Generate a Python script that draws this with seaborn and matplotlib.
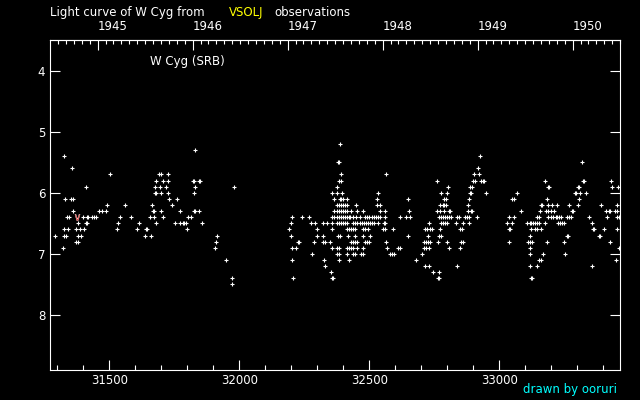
import matplotlib
matplotlib.use("Agg")
import matplotlib.pyplot as plt
from matplotlib.ticker import MultipleLocator, FixedLocator
import seaborn as sns
import pandas as pd

# visual estimates (JD - 2400000, magnitude), per season
season_1945 = [
    (31292, 6.7), (31323, 6.9), (31327, 5.4), (31327, 6.6), (31327, 6.7), (31331, 6.1),
    (31335, 6.7), (31338, 6.4), (31342, 6.6), (31346, 6.4), (31354, 6.1), (31358, 5.6),
    (31362, 6.1), (31362, 6.3), (31373, 6.6), (31373, 6.8), (31378, 6.5), (31381, 6.7),
    (31381, 6.8), (31388, 6.6), (31392, 6.7), (31400, 6.4), (31404, 6.6), (31410, 6.5),
    (31414, 6.5), (31412, 5.9), (31413, 6.4), (31417, 6.4), (31432, 6.4), (31440, 6.4),
    (31449, 6.4), (31462, 6.3), (31472, 6.3), (31488, 6.3), (31492, 6.2), (31504, 5.7),
]
season_1946 = [
    (31531, 6.6), (31535, 6.5), (31542, 6.4), (31562, 6.2), (31585, 6.4), (31608, 6.6),
    (31615, 6.5), (31638, 6.7), (31642, 6.6), (31646, 6.6), (31658, 6.4), (31662, 6.7),
    (31665, 6.2), (31669, 6.3), (31673, 6.3), (31673, 6.4), (31675, 6.0), (31679, 6.0),
    (31677, 5.9), (31681, 5.8), (31681, 6.5), (31692, 5.7), (31696, 5.9), (31700, 5.7),
    (31700, 6.0), (31700, 6.3), (31708, 5.8), (31708, 6.4), (31719, 5.9), (31727, 5.7),
    (31727, 5.8), (31727, 6.0), (31731, 6.1), (31742, 6.2), (31754, 6.5), (31762, 6.1),
    (31773, 6.3), (31773, 6.5), (31783, 6.5), (31787, 6.5), (31796, 6.5), (31800, 6.6),
    (31804, 6.4), (31815, 6.4), (31823, 5.8), (31827, 5.8), (31825, 6.3), (31827, 6.0),
    (31831, 5.3), (31831, 5.9), (31831, 6.3), (31844, 5.8), (31848, 5.8), (31846, 6.3),
    (31858, 6.5), (31908, 6.9), (31912, 6.8), (31915, 6.7), (31950, 7.1), (31973, 7.4),
    (31973, 7.5), (31981, 5.9),
]
season_1947 = [
    (32192, 6.6), (32200, 6.5), (32200, 6.7), (32204, 6.4), (32204, 6.9), (32204, 7.1),
    (32208, 7.4), (32219, 6.9), (32225, 6.8), (32229, 6.8), (32242, 6.4), (32269, 6.4),
    (32277, 6.5), (32280, 7.0), (32288, 6.8), (32292, 6.5), (32300, 6.6), (32300, 6.7),
    (32323, 6.5), (32323, 6.7), (32323, 6.8), (32327, 7.1), (32330, 6.8), (32330, 7.2),
    (32338, 6.5), (32350, 6.8), (32354, 7.3), (32355, 7.4), (32359, 7.4), (32357, 6.0),
    (32357, 6.4), (32357, 6.5), (32357, 6.6), (32357, 6.9), (32365, 6.1), (32365, 6.3),
    (32365, 6.4), (32377, 5.9), (32377, 6.0), (32377, 6.2), (32377, 6.3), (32377, 6.4),
    (32377, 6.5), (32377, 6.9), (32377, 7.0), (32378, 5.5), (32382, 5.5), (32380, 6.7),
    (32384, 5.8), (32384, 6.2), (32384, 6.3), (32384, 6.4), (32384, 6.5), (32384, 6.9),
    (32384, 7.0), (32384, 7.1), (32386, 6.1), (32390, 6.1), (32388, 5.2), (32388, 6.7),
    (32392, 5.7), (32392, 5.8), (32392, 6.2), (32392, 6.3), (32392, 6.4), (32392, 6.5),
    (32396, 6.0), (32400, 6.1), (32400, 6.2), (32400, 6.3), (32400, 6.4), (32400, 6.5),
    (32407, 6.2), (32407, 6.3), (32407, 6.4), (32407, 6.5), (32415, 6.1), (32415, 6.2),
    (32415, 6.3), (32415, 6.4), (32415, 6.5), (32415, 6.6), (32415, 6.9), (32415, 7.0),
    (32419, 6.7), (32422, 6.4), (32423, 6.6), (32423, 6.9), (32423, 7.1), (32427, 6.4),
    (32430, 6.3), (32430, 6.6), (32430, 6.8), (32430, 6.9), (32438, 6.4), (32438, 6.5),
    (32438, 6.6), (32438, 6.8), (32438, 6.9), (32438, 7.0), (32446, 6.5), (32446, 6.6),
    (32446, 6.7), (32446, 6.8), (32446, 7.0), (32450, 6.2), (32450, 6.4), (32454, 6.3),
    (32454, 6.5), (32454, 6.8), (32454, 6.9),
]
season_1948 = [
    (32464, 6.4), (32464, 6.5), (32469, 7.0), (32472, 6.5), (32474, 6.3), (32474, 6.9),
    (32477, 6.6), (32477, 6.7), (32477, 7.0), (32479, 6.5), (32483, 6.4), (32484, 6.6),
    (32484, 6.8), (32487, 6.5), (32492, 6.4), (32492, 6.8), (32495, 6.5), (32495, 6.6),
    (32500, 6.4), (32500, 6.8), (32502, 6.5), (32504, 6.7), (32509, 6.4), (32510, 6.5),
    (32517, 6.4), (32517, 6.5), (32524, 6.4), (32531, 6.1), (32531, 6.2), (32532, 6.4),
    (32535, 6.0), (32535, 6.5), (32541, 6.4), (32542, 6.2), (32542, 6.3), (32554, 6.6),
    (32556, 6.5), (32560, 6.5), (32561, 6.3), (32561, 6.4), (32561, 6.6), (32565, 5.7),
    (32565, 6.8), (32569, 6.9), (32581, 7.0), (32588, 7.0), (32592, 6.6), (32596, 7.0),
    (32611, 6.9), (32619, 6.4), (32619, 6.9), (32642, 6.4), (32650, 6.1), (32650, 6.7),
    (32654, 6.3), (32658, 6.4), (32681, 7.1),
]
season_1949 = [
    (32704, 7.0), (32712, 6.8), (32712, 6.9), (32715, 7.2), (32716, 6.6), (32719, 6.8),
    (32719, 6.9), (32723, 6.6), (32727, 6.7), (32727, 6.8), (32731, 6.5), (32731, 6.9),
    (32731, 7.2), (32735, 6.6), (32735, 6.8), (32742, 6.6), (32746, 7.3), (32762, 5.8),
    (32762, 6.3), (32763, 7.4), (32767, 7.4), (32765, 6.8), (32769, 6.4), (32769, 6.7),
    (32769, 7.3), (32773, 6.2), (32773, 6.3), (32773, 6.6), (32777, 6.0), (32777, 6.4),
    (32777, 6.5), (32777, 6.7), (32783, 6.2), (32787, 6.2), (32785, 6.4), (32785, 6.5),
    (32789, 6.1), (32789, 6.3), (32792, 6.4), (32792, 6.5), (32796, 6.1), (32796, 6.2),
    (32800, 6.0), (32800, 6.4), (32800, 6.5), (32800, 6.8), (32804, 5.9), (32806, 6.3),
    (32810, 6.3), (32808, 6.4), (32808, 6.9), (32815, 6.4), (32835, 6.5), (32839, 6.4),
    (32839, 7.2), (32846, 6.4), (32850, 6.6), (32850, 6.9), (32854, 6.8), (32858, 6.6),
    (32862, 6.5), (32862, 6.8), (32869, 6.4), (32877, 6.4), (32881, 6.2), (32881, 6.3),
    (32885, 6.1), (32885, 6.4), (32885, 6.5), (32887, 6.0), (32891, 6.0), (32889, 5.9),
    (32896, 5.9), (32890, 6.3), (32894, 6.3), (32900, 5.8), (32904, 5.7), (32908, 5.8),
    (32915, 6.4), (32919, 5.6), (32923, 5.7), (32927, 5.4), (32931, 5.8), (32937, 5.8),
    (32941, 5.8), (32950, 6.0),
]
season_1950 = [
    (33031, 6.5), (33039, 6.4), (33037, 6.6), (33041, 6.6), (33039, 6.8), (33050, 6.1),
    (33050, 6.5), (33058, 6.1), (33058, 6.4), (33069, 6.0), (33085, 6.3), (33108, 6.5),
    (33112, 6.8), (33116, 6.5), (33116, 6.7), (33116, 7.0), (33119, 6.8), (33119, 6.9),
    (33119, 7.2), (33121, 7.4), (33125, 7.4), (33123, 6.5), (33123, 6.6), (33127, 6.8),
    (33131, 6.5), (33139, 6.5), (33139, 6.6), (33146, 6.4), (33146, 6.5), (33146, 6.6),
    (33146, 7.2), (33154, 6.4), (33154, 6.5), (33154, 7.1), (33158, 6.3), (33160, 6.2),
    (33164, 6.2), (33162, 6.6), (33162, 7.1), (33166, 7.0), (33177, 5.8), (33177, 6.5),
    (33181, 6.3), (33185, 6.1), (33185, 6.8), (33187, 5.9), (33191, 5.9), (33189, 6.2),
    (33189, 6.3), (33189, 6.4), (33204, 6.2), (33223, 6.2), (33269, 6.2), (33304, 6.2),
    (33392, 6.2), (33454, 6.2), (33200, 6.3), (33212, 6.3), (33279, 6.3), (33283, 6.3),
    (33412, 6.3), (33421, 6.3), (33425, 6.3), (33446, 6.3), (33454, 6.3), (33200, 6.4),
    (33208, 6.4), (33216, 6.4), (33223, 6.4), (33231, 6.4), (33239, 6.4), (33262, 6.4),
    (33269, 6.4), (33277, 6.4), (33346, 6.4), (33415, 6.4), (33454, 6.4), (33462, 6.4),
    (33227, 6.5), (33235, 6.5), (33242, 6.5), (33250, 6.5), (33358, 6.5), (33360, 6.6),
    (33364, 6.6), (33404, 6.6), (33454, 6.6), (33260, 6.7), (33264, 6.7), (33383, 6.7),
    (33387, 6.7), (33250, 6.8), (33427, 6.8), (33462, 6.9), (33254, 7.0), (33450, 7.1),
    (33358, 7.2), (33316, 5.5), (33322, 5.8), (33326, 5.8), (33431, 5.8), (33302, 5.9),
    (33306, 5.9), (33435, 5.9), (33458, 5.9), (33290, 6.0), (33294, 6.0), (33312, 6.0),
    (33335, 6.0), (33308, 6.1),
]
# the single red (fainter-than) estimate
fainter_than = [(31377, 6.4)]

years = [1945, 1946, 1947, 1948, 1949, 1950]

obs = pd.DataFrame(season_1945 + season_1946 + season_1947 + season_1948
                   + season_1949 + season_1950, columns=["jd", "mag"])
limit = pd.DataFrame(fainter_than, columns=["jd", "mag"])


def to_jd(dates):
    # JD - 2400000 at 0h UT
    return (dates - pd.Timestamp("1858-11-17")).days + 0.5


year_jd = to_jd(pd.to_datetime([f"{y}-01-01" for y in years]))
month_jd = to_jd(pd.date_range("1944-08-01", "1950-12-01", freq="MS"))

sns.set_theme(style="ticks", rc={
    "figure.facecolor": "black", "axes.facecolor": "black",
    "axes.edgecolor": "white", "text.color": "white",
    "xtick.color": "white", "ytick.color": "white",
    "axes.linewidth": 0.8,
})
plt.rcParams["font.family"] = ["DejaVu Sans"]

fig = plt.figure(figsize=(6.4, 4.0), dpi=100)
ax = fig.add_axes([50 / 640, 30 / 400, 570 / 640, 330 / 400])

sns.scatterplot(data=obs, x="jd", y="mag", marker="+", color="white",
                s=10, linewidth=0.8, ax=ax, legend=False)
sns.scatterplot(data=limit, x="jd", y="mag", marker=r"$\vee$", color="red",
                s=20, linewidth=0.3, ax=ax, legend=False)

ax.set_xlim(31272, 33464)
ax.set_ylim(8.9, 3.5)
ax.set_xlabel("")
ax.set_ylabel("")

ax.set_xticks([31500, 32000, 32500, 33000])
ax.xaxis.set_minor_locator(MultipleLocator(100))
ax.set_yticks([4, 5, 6, 7, 8])
ax.tick_params(axis="both", which="major", direction="in", length=7.5, width=0.8,
               labelsize=8.5, labelcolor="white")
ax.tick_params(axis="x", which="major", pad=3, top=False)
ax.tick_params(axis="x", which="minor", direction="in", length=3.8, width=0.8, top=False)
ax.tick_params(axis="y", which="major", pad=3.5, right=True)
for s in ax.spines.values():
    s.set_color("white")

# calendar years along the top
top = ax.secondary_xaxis("top")
top.set_xticks(year_jd, labels=[str(y) for y in years])
top.xaxis.set_minor_locator(FixedLocator(month_jd))
top.tick_params(which="major", direction="in", length=7.5, width=0.8,
                labelsize=8.5, labelcolor="white", pad=5)
top.tick_params(which="minor", direction="in", length=3, width=0.8)
top.spines["top"].set_color("white")
for lbl in top.get_xticklabels():
    lbl.set_horizontalalignment("left")

fig.text(50 / 640, 1 - 12.5 / 400, "Light curve of W Cyg from", fontsize=8.5,
         color="white", ha="left", va="center")
fig.text(229 / 640, 1 - 12.5 / 400, "VSOLJ", fontsize=8.5, color="yellow",
         ha="left", va="center")
fig.text(274 / 640, 1 - 12.5 / 400, "observations", fontsize=8.5, color="white",
         ha="left", va="center")
fig.text(150 / 640, 1 - 61 / 400, "W Cyg (SRB)", fontsize=8.5, color="white",
         ha="left", va="center")
fig.text(617 / 640, 1 - 389 / 400, "drawn by ooruri", fontsize=8.5, color="#00ffff",
         ha="right", va="center")

fig.savefig("out.png", dpi=100, facecolor="black")
